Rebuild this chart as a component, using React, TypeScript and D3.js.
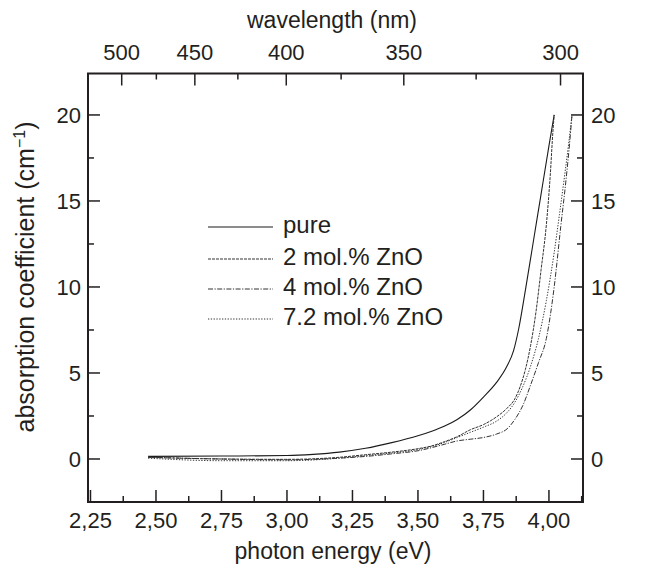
import React from "react";
import * as d3 from "d3";

const energyTicks = [2.25, 2.5, 2.75, 3.0, 3.25, 3.5, 3.75, 4.0];
const energyMinor = [2.375, 2.625, 2.875, 3.125, 3.375, 3.625, 3.875, 4.125];
const yTicks = [0, 5, 10, 15, 20];
const yMinor = [2.5, 7.5, 12.5, 17.5];
const waveMajor = [500, 450, 400, 350, 300];
const waveMinor = [475, 425, 375, 325];

const pureE = [2.47, 2.75, 3.0, 3.1, 3.2, 3.3, 3.4, 3.5, 3.55, 3.6, 3.65, 3.7, 3.75, 3.8, 3.84, 3.865, 3.885, 3.91, 3.94, 3.97, 4.0, 4.02];
const pureV = [0.15, 0.17, 0.2, 0.27, 0.4, 0.62, 0.95, 1.35, 1.6, 1.9, 2.3, 2.85, 3.6, 4.45, 5.4, 6.3, 7.6, 9.8, 12.6, 15.4, 18.2, 20.0];

const mol2E = [2.47, 2.75, 3.0, 3.2, 3.3, 3.4, 3.5, 3.55, 3.6, 3.65, 3.7, 3.75, 3.8, 3.84, 3.87, 3.89, 3.91, 3.93, 3.95, 3.97, 3.99, 4.005, 4.015, 4.02];
const mol2V = [0.1, 0.0, -0.02, 0.1, 0.25, 0.4, 0.6, 0.75, 1.0, 1.3, 1.7, 2.0, 2.45, 2.95, 3.5, 4.2, 5.2, 6.6, 8.5, 11.0, 13.6, 16.5, 19.0, 20.0];

const mol4E = [2.47, 2.75, 3.0, 3.2, 3.3, 3.4, 3.5, 3.6, 3.65, 3.7, 3.75, 3.8, 3.84, 3.87, 3.9, 3.93, 3.96, 3.99, 4.02, 4.045, 4.065, 4.078, 4.088];
const mol4V = [0.1, 0.0, -0.05, 0.05, 0.15, 0.3, 0.48, 0.85, 1.05, 1.15, 1.25, 1.45, 1.75, 2.3, 3.1, 4.3, 5.6, 7.0, 10.0, 13.5, 16.2, 18.2, 20.0];

const mol72E = [2.47, 2.75, 3.0, 3.2, 3.3, 3.4, 3.5, 3.6, 3.65, 3.7, 3.75, 3.8, 3.84, 3.87, 3.9, 3.93, 3.96, 3.99, 4.02, 4.04, 4.06, 4.075, 4.088];
const mol72V = [0.05, -0.1, -0.1, 0.05, 0.2, 0.35, 0.55, 0.95, 1.25, 1.55, 1.85, 2.2, 2.7, 3.3, 4.2, 5.4, 7.0, 9.2, 12.0, 14.2, 16.5, 18.3, 20.0];

const seriesNames = ["pure", "2 mol.% ZnO", "4 mol.% ZnO", "7.2 mol.% ZnO"];

const W = 658;
const H = 564;
const L = 88, R = 583, T = 73.5, B = 502;
const FONT = "'Liberation Sans', Arial, Helvetica, sans-serif";
const INK = "#231f20";

export default function App() {
  const x = d3.scaleLinear().domain([2.2405, 4.13]).range([L, R]);
  const y = d3.scaleLinear().domain([-2.5, 22.41]).range([B, T]);
  const xTop = d3.scaleLinear().domain([2.353, 4.218]).range([L, R]);
  const line = d3
    .line<[number, number]>()
    .x((d) => x(d[0]))
    .y((d) => y(d[1]))
    .curve(d3.curveMonotoneX);

  const series = [
    { name: seriesNames[0], pts: pureE.map((e, i) => [e, pureV[i]] as [number, number]), dash: "none", color: "#1a1a1a", w: 1.1 },
    { name: seriesNames[1], pts: mol2E.map((e, i) => [e, mol2V[i]] as [number, number]), dash: "3,1", color: "#333", w: 1 },
    { name: seriesNames[2], pts: mol4E.map((e, i) => [e, mol4V[i]] as [number, number]), dash: "5,1.5,1.2,1.5", color: "#333", w: 1 },
    { name: seriesNames[3], pts: mol72E.map((e, i) => [e, mol72V[i]] as [number, number]), dash: "1.3,1.5", color: "#333", w: 1 },
  ];

  const legendY = [225, 257, 287, 317];
  const fmt = (v: number) => v.toFixed(2).replace(".", ",");

  return (
    <svg width={W} height={H} style={{ position: "absolute", left: 0, top: 0, background: "#fff" }} fontFamily={FONT}>
      <rect x={0} y={0} width={W} height={H} fill="#fff" />
      <defs>
        <clipPath id="plot">
          <rect x={L} y={T} width={R - L} height={B - T} />
        </clipPath>
      </defs>
      <g clipPath="url(#plot)" fill="none">
        {series.map((s) => (
          <path key={s.name} d={line(s.pts) || ""} stroke={s.color} strokeWidth={s.w} strokeDasharray={s.dash} />
        ))}
      </g>
      <g stroke={INK} strokeWidth={1.5}>
        {energyTicks.map((t) => (
          <line key={"bm" + t} x1={x(t)} x2={x(t)} y1={B} y2={B - 12} />
        ))}
        {energyMinor.filter((t) => x(t) < R).map((t) => (
          <line key={"bn" + t} x1={x(t)} x2={x(t)} y1={B} y2={B - 6} />
        ))}
        {yTicks.map((t) => (
          <g key={"ym" + t}>
            <line x1={L} x2={L + 12} y1={y(t)} y2={y(t)} />
            <line x1={R} x2={R - 12} y1={y(t)} y2={y(t)} />
          </g>
        ))}
        {yMinor.map((t) => (
          <g key={"yn" + t}>
            <line x1={L} x2={L + 6} y1={y(t)} y2={y(t)} />
            <line x1={R} x2={R - 6} y1={y(t)} y2={y(t)} />
          </g>
        ))}
        {waveMajor.map((w) => (
          <line key={"tm" + w} x1={xTop(1240 / w)} x2={xTop(1240 / w)} y1={T} y2={T + 12} />
        ))}
        {waveMinor.map((w) => (
          <line key={"tn" + w} x1={xTop(1240 / w)} x2={xTop(1240 / w)} y1={T} y2={T + 6} />
        ))}
      </g>
      <rect x={L} y={T} width={R - L} height={B - T} fill="none" stroke={INK} strokeWidth={2} />
      <g fill={INK} fontSize={22}>
        {energyTicks.map((t) => (
          <text key={"bl" + t} x={x(t)} y={528} textAnchor="middle">{fmt(t)}</text>
        ))}
        {yTicks.map((t) => (
          <g key={"yl" + t}>
            <text x={81} y={y(t) + 8} textAnchor="end">{t}</text>
            <text x={591} y={y(t) + 8} textAnchor="start">{t}</text>
          </g>
        ))}
        {waveMajor.map((w) => (
          <text key={"tl" + w} x={xTop(1240 / w)} y={60} textAnchor="middle">{w}</text>
        ))}
      </g>
      <g fill={INK}>
        <text x={333} y={559} textAnchor="middle" fontSize={23}>photon energy (eV)</text>
        <text x={332} y={28} textAnchor="middle" fontSize={23}>wavelength (nm)</text>
        <text transform="translate(34,277) rotate(-90)" textAnchor="middle" fontSize={25}>
          absorption coefficient (cm<tspan dy={-9} fontSize={16}>−1</tspan><tspan dy={9}>)</tspan>
        </text>
      </g>
      <g>
        {series.map((s, i) => (
          <g key={"lg" + s.name}>
            <line x1={208} x2={273} y1={legendY[i] + 2} y2={legendY[i] + 2} stroke={s.color} strokeWidth={s.w} strokeDasharray={s.dash} />
            <text x={283} y={legendY[i] + 8} fontSize={24} fill={INK}>{s.name}</text>
          </g>
        ))}
      </g>
    </svg>
  );
}
